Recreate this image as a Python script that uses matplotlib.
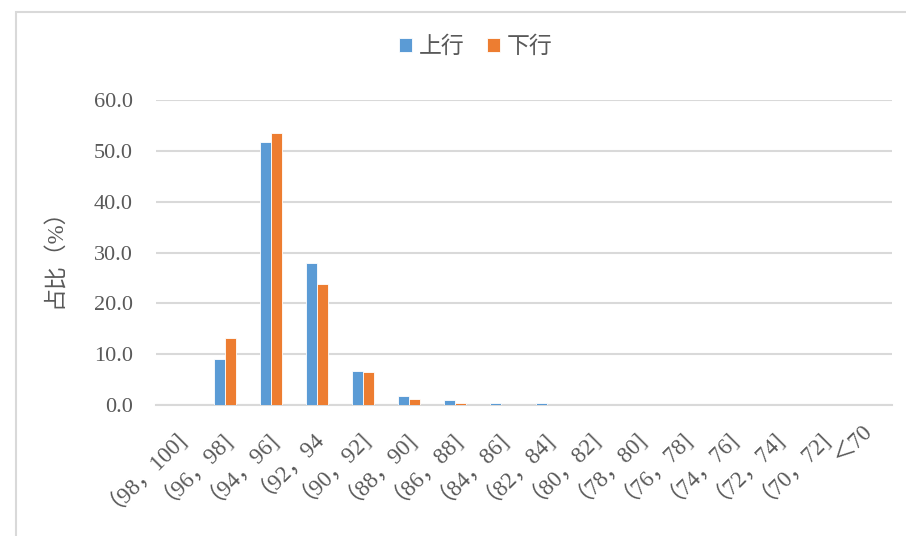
import matplotlib
matplotlib.use('Agg')
import matplotlib.pyplot as plt
from matplotlib.patches import Rectangle
import numpy as np

plt.rcParams['font.family'] = ['Liberation Serif', 'Noto Sans CJK SC', 'DejaVu Sans']

categories = ['（98，100]', '（96，98]', '（94，96]', '（92，94', '（90，92]', '（88，90]',
              '（86，88]', '（84，86]', '（82，84]', '（80，82]', '（78，80]', '（76，78]',
              '（74，76]', '（72，74]', '（70，72]', '＜70']
up_values = [0, 9.0, 51.7, 28.0, 6.7, 1.7, 0.9, 0.4, 0.4, 0, 0, 0, 0, 0, 0, 0]
down_values = [0, 13.2, 53.5, 23.8, 6.4, 1.1, 0.45, 0, 0, 0, 0, 0, 0, 0, 0, 0]
series_names = ['上行', '下行']

BLUE = '#5B9BD5'
ORANGE = '#ED7D31'
GRAY_TEXT = '#595959'
GRID = '#D9D9D9'

fig = plt.figure(figsize=(9.06, 5.36), dpi=100)
ax = fig.add_axes([156 / 906, (536 - 405) / 536, (892 - 156) / 906, (405 - 100) / 536])

x = np.arange(len(categories))
w = 0.23
ax.bar(x - w / 2, up_values, w, color=BLUE, edgecolor='white', linewidth=0.6,
       label=series_names[0], zorder=3)
ax.bar(x + w / 2, down_values, w, color=ORANGE, edgecolor='white', linewidth=0.6,
       label=series_names[1], zorder=3)

ax.set_xlim(-0.5, len(categories) - 0.5)
ax.set_ylim(0, 60)
ax.set_yticks(np.arange(0, 61, 10))
ax.set_yticklabels([f'{v:.1f}' for v in np.arange(0, 61, 10)])
ax.yaxis.grid(True, color=GRID, linewidth=1.5, zorder=0)
ax.set_axisbelow(True)

for s in ['top', 'right', 'left']:
    ax.spines[s].set_visible(False)
ax.spines['bottom'].set_color(GRID)
ax.spines['bottom'].set_linewidth(1.5)
ax.tick_params(axis='both', length=0, colors=GRAY_TEXT)
ax.tick_params(axis='y', pad=16.5, labelsize=16)

ax.set_xticks(x)
ax.set_xticklabels(categories, rotation=45, rotation_mode='anchor', ha='right', va='center')
ax.tick_params(axis='x', pad=16, labelsize=16.5)

ax.set_ylabel('占比（%）', color=GRAY_TEXT, fontsize=16.5, labelpad=20)

leg = fig.legend(loc='center', bbox_to_anchor=(476 / 906, 1 - 47 / 536), ncol=2,
                 frameon=False, fontsize=16.5, handlelength=0.55, handleheight=0.55,
                 handletextpad=0.3, columnspacing=1.0)
for t in leg.get_texts():
    t.set_color(GRAY_TEXT)

# chart area border (only top/left visible in the crop)
fig.patches.append(Rectangle((16 / 906, -0.2), 2.0, 1.2 - 12 / 536,
                             transform=fig.transFigure, fill=False,
                             edgecolor=GRID, linewidth=1.5))

fig.savefig('out.png', dpi=100)
